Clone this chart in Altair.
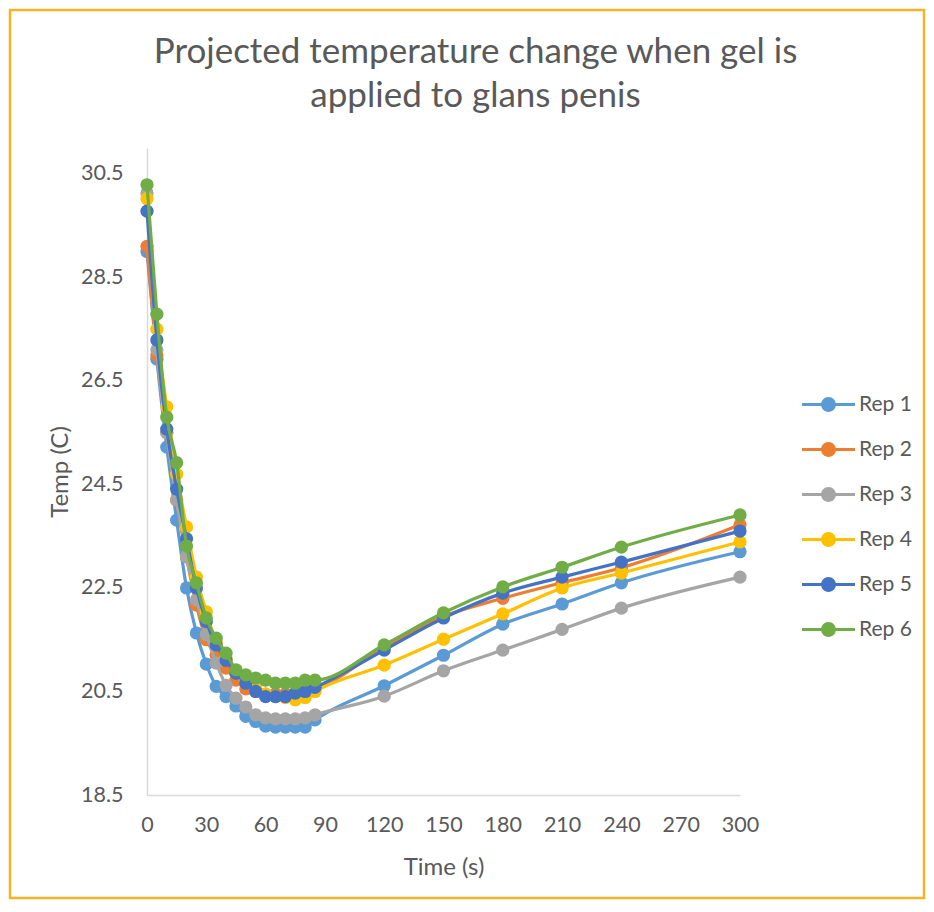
import altair as alt
import pandas as pd

times = [0, 5, 10, 15, 20, 25, 30, 35, 40, 45, 50, 55, 60, 65, 70, 75, 80, 85, 120, 150, 180, 210, 240, 300]
rep1 = [29.0, 26.92, 25.22, 23.81, 22.5, 21.63, 21.03, 20.6, 20.4, 20.22, 20.02, 19.92, 19.83, 19.81, 19.81, 19.81, 19.81, 19.95, 20.61, 21.2, 21.8, 22.19, 22.6, 23.2]
rep2 = [29.1, 27.0, 25.5, 24.2, 23.1, 22.17, 21.5, 21.2, 20.95, 20.72, 20.55, 20.5, 20.45, 20.45, 20.45, 20.45, 20.5, 20.55, 21.35, 21.95, 22.3, 22.6, 22.89, 23.72]
rep3 = [30.13, 27.1, 25.5, 24.2, 23.1, 22.27, 21.6, 21.05, 20.62, 20.37, 20.2, 20.05, 19.99, 19.97, 19.97, 19.97, 19.99, 20.05, 20.41, 20.9, 21.3, 21.7, 22.11, 22.71]
rep4 = [30.02, 27.5, 26.0, 24.7, 23.68, 22.71, 22.04, 21.45, 21.15, 20.85, 20.7, 20.6, 20.45, 20.4, 20.38, 20.34, 20.38, 20.5, 21.01, 21.51, 22.0, 22.5, 22.79, 23.39]
rep5 = [29.78, 27.29, 25.57, 24.41, 23.45, 22.5, 21.85, 21.4, 21.1, 20.85, 20.66, 20.5, 20.4, 20.4, 20.4, 20.47, 20.5, 20.58, 21.3, 21.92, 22.4, 22.71, 23.0, 23.6]
rep6 = [30.29, 27.79, 25.8, 24.92, 23.31, 22.6, 21.92, 21.53, 21.24, 20.92, 20.82, 20.76, 20.72, 20.66, 20.66, 20.66, 20.72, 20.72, 21.4, 22.02, 22.52, 22.9, 23.29, 23.91]

series_names = ["Rep 1", "Rep 2", "Rep 3", "Rep 4", "Rep 5", "Rep 6"]
series_values = [rep1, rep2, rep3, rep4, rep5, rep6]
colors = ["#5B9BD5", "#ED7D31", "#A5A5A5", "#FFC000", "#4472C4", "#70AD47"]
x_ticks = [0, 30, 60, 90, 120, 150, 180, 210, 240, 270, 300]
y_ticks = [18.5, 20.5, 22.5, 24.5, 26.5, 28.5, 30.5]
title_lines = ["Projected temperature change when gel is", "applied to glans penis"]

rows = []
for name, vals in zip(series_names, series_values):
    for t, v in zip(times, vals):
        rows.append({"time": t, "temp": v, "rep": name})
df = pd.DataFrame(rows)

FONT = "Lato"
TXT = "#595959"

legend_path = ("M-1,-0.06 L-0.25,-0.06 L-0.25,0.06 L-1,0.06 Z "
               "M0.25,-0.06 L1,-0.06 L1,0.06 L0.25,0.06 Z "
               "M0.28,0 A0.28,0.28 0 1,1 -0.28,0 A0.28,0.28 0 1,1 0.28,0 Z")

color = alt.Color(
    "rep:N",
    scale=alt.Scale(domain=series_names, range=colors),
    legend=alt.Legend(
        title=None,
        orient="none",
        legendX=655,
        legendY=230,
        symbolType=legend_path,
        symbolSize=2809,
        symbolStrokeWidth=0,
        labelFontSize=21,
        labelFont=FONT,
        labelColor=TXT,
        labelOffset=4,
        rowPadding=8,
    ),
)

x = alt.X("time:Q",
          scale=alt.Scale(domain=[0, 300], nice=False),
          axis=alt.Axis(values=x_ticks, title="Time (s)", ticks=False, grid=False,
                        labelPadding=19, titlePadding=20, labelFlush=False))
y = alt.Y("temp:Q",
          scale=alt.Scale(domain=[18.5, 31], nice=False, zero=False),
          axis=alt.Axis(values=y_ticks, format=".1f", title="Temp (C)", ticks=False, grid=False,
                        labelPadding=24, titlePadding=8))

layers = []
border = alt.Chart(pd.DataFrame({"a": [0]})).mark_rect(
    fill=None, stroke="#F5B325", strokeWidth=2.5
).encode(x=alt.value(-137), x2=alt.value(777), y=alt.value(-138), y2=alt.value(750))
layers.append(border)

for name in series_names:
    sub = alt.Chart(df).transform_filter(alt.datum.rep == name)
    layers.append(sub.mark_line(strokeWidth=3.2, interpolate="monotone").encode(x=x, y=y, color=color))
    layers.append(sub.mark_point(filled=True, size=175, opacity=1).encode(x=x, y=y, color=color))

chart = alt.layer(*layers).properties(
    width=593,
    height=647,
    autosize=alt.AutoSizeParams(type="none"),
    padding={"left": 139, "top": 140, "right": 186, "bottom": 105},
    title=alt.Title(
        text=title_lines,
        fontSize=35, font=FONT, color=TXT, fontWeight="normal",
        lineHeight=44, anchor="middle", dx=32, offset=-105,
    ),
).configure_axis(
    domainColor="#D9D9D9", domainWidth=1.5,
    labelFont=FONT, labelFontSize=21.5, labelColor=TXT,
    titleFont=FONT, titleFontSize=24, titleColor=TXT, titleFontWeight="normal",
).configure_view(stroke=None)

chart.save("out.html", embed_options={"renderer": "svg", "actions": False})
